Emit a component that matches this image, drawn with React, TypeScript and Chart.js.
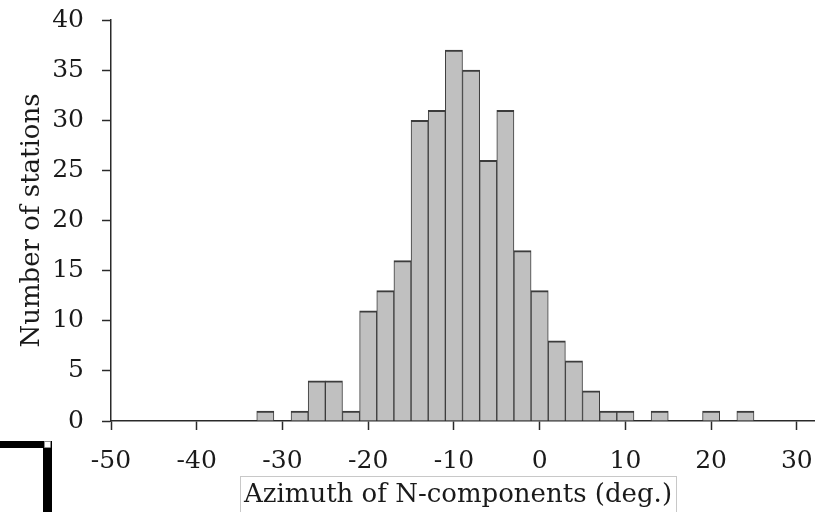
import React, { useEffect, useRef } from "react";
import { Chart, registerables } from "chart.js";

Chart.register(...registerables);

// Histogram bins (2-degree wide, centred on even values)
const binCenters = [
  -32, -30, -28, -26, -24, -22, -20, -18, -16, -14, -12, -10, -8, -6, -4, -2,
  0, 2, 4, 6, 8, 10, 12, 14, 16, 18, 20, 22, 24,
];
const stationCounts = [
  1, 0, 1, 4, 4, 1, 11, 13, 16, 30, 31, 37, 35, 26, 31, 17,
  13, 8, 6, 3, 1, 1, 0, 1, 0, 0, 1, 0, 1,
];
const xTickValues = [-50, -40, -30, -20, -10, 0, 10, 20, 30];
const yTickValues = [0, 5, 10, 15, 20, 25, 30, 35, 40];
const xTitle = "Azimuth of N-components (deg.)";
const yTitle = "Number of stations";

const FONT = "'DejaVu Serif', serif";

const decorPlugin = {
  id: "decor",
  afterDraw(chart: any) {
    const ctx = chart.ctx as CanvasRenderingContext2D;
    ctx.save();
    // x-axis title with thin box
    ctx.font = `26px ${FONT}`;
    ctx.fillStyle = "#1a1a1a";
    ctx.textAlign = "center";
    ctx.textBaseline = "alphabetic";
    const cx = 458;
    const w = ctx.measureText(xTitle).width;
    ctx.fillText(xTitle, cx, 502);
    ctx.strokeStyle = "#c8c8c8";
    ctx.lineWidth = 1;
    ctx.strokeRect(Math.round(cx - w / 2 - 4) + 0.5, 476.5, Math.round(w + 8), 40);

    // black corner bracket artifact
    ctx.fillStyle = "#000";
    ctx.fillRect(0, 441, 52, 7);
    ctx.fillRect(43, 441, 9, 71);
    ctx.fillStyle = "#fff";
    ctx.fillRect(44.5, 441.5, 6, 6);
    ctx.strokeStyle = "#999";
    ctx.lineWidth = 0.6;
    ctx.strokeRect(44.5, 441.5, 6, 6);
    ctx.restore();
  },
};

export default function App() {
  const ref = useRef<HTMLCanvasElement | null>(null);

  useEffect(() => {
    if (!ref.current) return;
    const data = binCenters.map((x, i) => ({
      x,
      y: stationCounts[i] === 0 ? null : stationCounts[i],
    }));
    const chart = new Chart(ref.current, {
      type: "bar",
      data: {
        datasets: [
          {
            data: data as any,
            backgroundColor: "#c0c0c0",
            borderColor: "#3c3c3c",
            borderWidth: { top: 2, left: 1, right: 1, bottom: 0 } as any,
            borderSkipped: false as any,
            barPercentage: 1,
            categoryPercentage: 1,
          },
        ],
      },
      options: {
        animation: false,
        responsive: false,
        devicePixelRatio: 1,
        layout: { padding: { left: 0, top: 20, right: 3, bottom: 0 } },
        plugins: {
          legend: { display: false },
          tooltip: { enabled: false },
        },
        scales: {
          x: {
            type: "linear",
            min: -50,
            max: 32,
            offset: false,
            afterBuildTicks: (scale: any) => {
              scale.ticks = xTickValues.map((v) => ({ value: v }));
            },
            afterFit: (scale: any) => {
              scale.height = 91;
              scale.paddingLeft = 0;
              scale.paddingRight = 0;
            },
            grid: {
              offset: false,
              drawOnChartArea: false,
              drawTicks: true,
              tickLength: 9,
              tickColor: "#2a2a2a",
              tickWidth: 1.5,
            },
            border: { color: "#2a2a2a", width: 1.5 },
            ticks: {
              autoSkip: false,
              maxRotation: 0,
              padding: 16,
              color: "#1a1a1a",
              font: { family: FONT, size: 25 },
            },
          },
          y: {
            min: 0,
            max: 40,
            afterBuildTicks: (scale: any) => {
              scale.ticks = yTickValues.map((v) => ({ value: v }));
            },
            afterFit: (scale: any) => {
              scale.width = 111;
              scale.paddingTop = 0;
              scale.paddingBottom = 0;
            },
            grid: {
              drawOnChartArea: false,
              drawTicks: true,
              tickLength: 9,
              tickColor: "#2a2a2a",
              tickWidth: 1.5,
            },
            border: { color: "#2a2a2a", width: 1.5 },
            ticks: {
              autoSkip: false,
              padding: 18,
              color: "#1a1a1a",
              font: { family: FONT, size: 25 },
            },
            title: {
              display: true,
              text: yTitle,
              color: "#1a1a1a",
              font: { family: FONT, size: 26 },
              padding: { top: 17, bottom: 0 },
            },
          },
        },
      },
      plugins: [decorPlugin],
    });
    return () => chart.destroy();
  }, []);

  return (
    <div
      style={{
        position: "fixed",
        left: 0,
        top: 0,
        width: 817,
        height: 512,
        background: "#fff",
      }}
    >
      <canvas ref={ref} width={817} height={512} />
    </div>
  );
}
